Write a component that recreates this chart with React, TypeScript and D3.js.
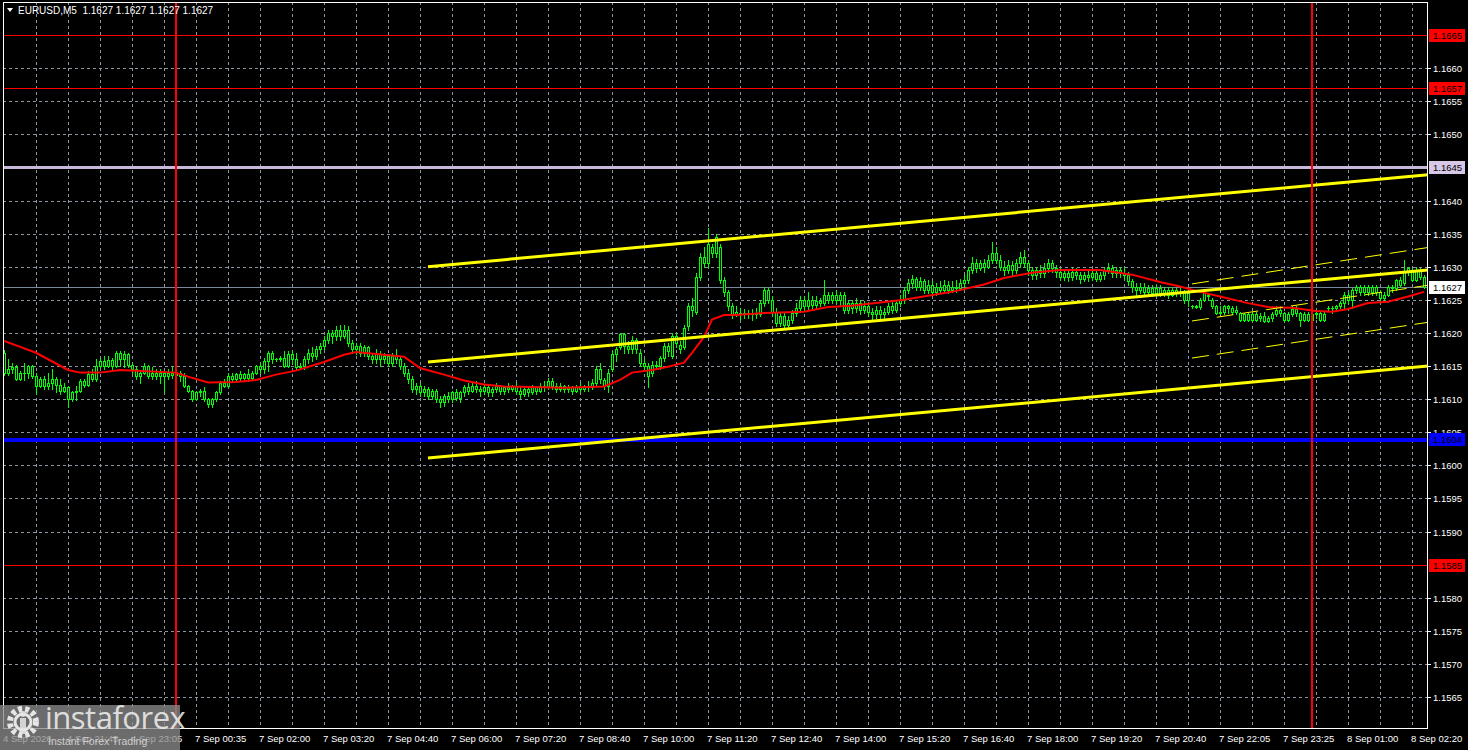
import React, { useEffect } from "react";
import * as d3 from "d3";

// ---------- DATA ----------
const symbolTitle = "EURUSD,M5  1.1627 1.1627 1.1627 1.1627";

const timeLabels = [
  "4 Sep 2026", "4 Sep 21:45", "4 Sep 23:05", "7 Sep 00:35", "7 Sep 02:00", "7 Sep 03:20",
  "7 Sep 04:40", "7 Sep 06:00", "7 Sep 07:20", "7 Sep 08:40", "7 Sep 10:00", "7 Sep 11:20",
  "7 Sep 12:40", "7 Sep 14:00", "7 Sep 15:20", "7 Sep 16:40", "7 Sep 18:00", "7 Sep 19:20",
  "7 Sep 20:40", "7 Sep 22:05", "7 Sep 23:25", "8 Sep 01:00", "8 Sep 02:20",
];

const priceTicks = [
  1.1565, 1.157, 1.1575, 1.158, 1.1585, 1.159, 1.1595, 1.16, 1.1605, 1.161, 1.1615,
  1.162, 1.1625, 1.163, 1.1635, 1.164, 1.1645, 1.165, 1.1655, 1.166, 1.1665,
];

// M5 candles: [open, high, low, close]
const ohlc: [number, number, number, number][] = [
  [1.1617, 1.16174, 1.16137, 1.1614], [1.1614, 1.1616, 1.16137, 1.16145], [1.16145, 1.16155, 1.1614, 1.16149], [1.16149, 1.16152, 1.16129, 1.16131],
  [1.16131, 1.16143, 1.16129, 1.1614], [1.1614, 1.16155, 1.16129, 1.1614], [1.1614, 1.16152, 1.16132, 1.1615], [1.1615, 1.16152, 1.16132, 1.16135],
  [1.16135, 1.1614, 1.16107, 1.1612], [1.1612, 1.16133, 1.16118, 1.1613], [1.1613, 1.16135, 1.16115, 1.1612], [1.1612, 1.1614, 1.16115, 1.16125],
  [1.16125, 1.16145, 1.16115, 1.1613], [1.1613, 1.16133, 1.1611, 1.16122], [1.16122, 1.1613, 1.16108, 1.16112], [1.16112, 1.16125, 1.1611, 1.16118],
  [1.16118, 1.1612, 1.16088, 1.161], [1.161, 1.16112, 1.16097, 1.1611], [1.1611, 1.1612, 1.16099, 1.16112], [1.16112, 1.1613, 1.1611, 1.16128],
  [1.16128, 1.1613, 1.16118, 1.16122], [1.16122, 1.16142, 1.1612, 1.16138], [1.16138, 1.16145, 1.16128, 1.1613], [1.1613, 1.1616, 1.16128, 1.1615],
  [1.1615, 1.16162, 1.16148, 1.16158], [1.16158, 1.16165, 1.16145, 1.1615], [1.1615, 1.16165, 1.16148, 1.16159], [1.16159, 1.16162, 1.16145, 1.1615],
  [1.1615, 1.16172, 1.16148, 1.1617], [1.1617, 1.16172, 1.1615, 1.1616], [1.1616, 1.16172, 1.16148, 1.16168], [1.16168, 1.1617, 1.16148, 1.16152],
  [1.16152, 1.16155, 1.1614, 1.16145], [1.16145, 1.16148, 1.1613, 1.16135], [1.16135, 1.16143, 1.16125, 1.1614], [1.1614, 1.16155, 1.16138, 1.1615],
  [1.1615, 1.16152, 1.16132, 1.16135], [1.16135, 1.16148, 1.1613, 1.1614], [1.1614, 1.16145, 1.1613, 1.16135], [1.16135, 1.16145, 1.16125, 1.1614],
  [1.1614, 1.16142, 1.1611, 1.16135], [1.16135, 1.16145, 1.1613, 1.1614], [1.1614, 1.1615, 1.16132, 1.16137], [1.16137, 1.16145, 1.1613, 1.1614],
  [1.1614, 1.16142, 1.16128, 1.16135], [1.16135, 1.1614, 1.16118, 1.1612], [1.1612, 1.16122, 1.1611, 1.16112], [1.16112, 1.16114, 1.16097, 1.161],
  [1.161, 1.16112, 1.16098, 1.1611], [1.1611, 1.16115, 1.16105, 1.16112], [1.16112, 1.16119, 1.16097, 1.161], [1.161, 1.16102, 1.16088, 1.16092],
  [1.16092, 1.16102, 1.16088, 1.161], [1.161, 1.16112, 1.16097, 1.1611], [1.1611, 1.16128, 1.16108, 1.16125], [1.16125, 1.1613, 1.16118, 1.1612],
  [1.1612, 1.1614, 1.16118, 1.16135], [1.16135, 1.1614, 1.16128, 1.1613], [1.1613, 1.1614, 1.16128, 1.16138], [1.16138, 1.16142, 1.16128, 1.16132],
  [1.16132, 1.1614, 1.1613, 1.16138], [1.16138, 1.16145, 1.16128, 1.16132], [1.16132, 1.16142, 1.1613, 1.1614], [1.1614, 1.16152, 1.16138, 1.1615],
  [1.1615, 1.16155, 1.1614, 1.16145], [1.16145, 1.16162, 1.1614, 1.16158], [1.16158, 1.16172, 1.16142, 1.1617], [1.1617, 1.16172, 1.16155, 1.1616],
  [1.1616, 1.16162, 1.16157, 1.1616], [1.1616, 1.16165, 1.16158, 1.16162], [1.16162, 1.16172, 1.16148, 1.1615], [1.1615, 1.16172, 1.16148, 1.16168],
  [1.16168, 1.16172, 1.16155, 1.1616], [1.1616, 1.1617, 1.16146, 1.16148], [1.16148, 1.16155, 1.16145, 1.1615], [1.1615, 1.16165, 1.16145, 1.1616],
  [1.1616, 1.16175, 1.16155, 1.1617], [1.1617, 1.16178, 1.16158, 1.16165], [1.16165, 1.1618, 1.1616, 1.16175], [1.16175, 1.16185, 1.1617, 1.1618],
  [1.1618, 1.16195, 1.16175, 1.1619], [1.1619, 1.16205, 1.16185, 1.162], [1.162, 1.16205, 1.16185, 1.16195], [1.16195, 1.1621, 1.1619, 1.16205],
  [1.16205, 1.16212, 1.1619, 1.16195], [1.16195, 1.16212, 1.16192, 1.16205], [1.16205, 1.1621, 1.1618, 1.16185], [1.16185, 1.1619, 1.1617, 1.16175],
  [1.16175, 1.16185, 1.16168, 1.1618], [1.1618, 1.16185, 1.16165, 1.1617], [1.1617, 1.16182, 1.16165, 1.16178], [1.16178, 1.1618, 1.1616, 1.16165],
  [1.16165, 1.1617, 1.16155, 1.1616], [1.1616, 1.16175, 1.16155, 1.16168], [1.16168, 1.16172, 1.1615, 1.1616], [1.1616, 1.1617, 1.16155, 1.16165],
  [1.16165, 1.16168, 1.1615, 1.16155], [1.16155, 1.1617, 1.1615, 1.16165], [1.16165, 1.16175, 1.16155, 1.1616], [1.1616, 1.16165, 1.16145, 1.1615],
  [1.1615, 1.16155, 1.16135, 1.1614], [1.1614, 1.16145, 1.16125, 1.1613], [1.1613, 1.16135, 1.1611, 1.16115], [1.16115, 1.16125, 1.16108, 1.1612],
  [1.1612, 1.16125, 1.16105, 1.1611], [1.1611, 1.1612, 1.16105, 1.16115], [1.16115, 1.16118, 1.161, 1.16105], [1.16105, 1.16115, 1.161, 1.16112],
  [1.16112, 1.16115, 1.16095, 1.161], [1.161, 1.16105, 1.16088, 1.16095], [1.16095, 1.16108, 1.1609, 1.16105], [1.16105, 1.1611, 1.16095, 1.161],
  [1.161, 1.16112, 1.16095, 1.1611], [1.1611, 1.16115, 1.16098, 1.16102], [1.16102, 1.16112, 1.16095, 1.1611], [1.1611, 1.16122, 1.16105, 1.16118],
  [1.16118, 1.16125, 1.16108, 1.16112], [1.16112, 1.16125, 1.1611, 1.1612], [1.1612, 1.16128, 1.1611, 1.16115], [1.16115, 1.1612, 1.16105, 1.16112],
  [1.16112, 1.16122, 1.16108, 1.16118], [1.16118, 1.1612, 1.16105, 1.1611], [1.1611, 1.16118, 1.16105, 1.16115], [1.16115, 1.16125, 1.1611, 1.1612],
  [1.1612, 1.16122, 1.16108, 1.16112], [1.16112, 1.1612, 1.16108, 1.16118], [1.16118, 1.16125, 1.1611, 1.16115], [1.16115, 1.16122, 1.16112, 1.1612],
  [1.1612, 1.16125, 1.16108, 1.16112], [1.16112, 1.16118, 1.16102, 1.16108], [1.16108, 1.16118, 1.16105, 1.16115], [1.16115, 1.1612, 1.16105, 1.1611],
  [1.1611, 1.16122, 1.16108, 1.16118], [1.16118, 1.1612, 1.16108, 1.16112], [1.16112, 1.16125, 1.1611, 1.1612], [1.1612, 1.16128, 1.16112, 1.16118],
  [1.16118, 1.16132, 1.16115, 1.16128], [1.16128, 1.16132, 1.16115, 1.1612], [1.1612, 1.16125, 1.1611, 1.16115], [1.16115, 1.16125, 1.16112, 1.1612],
  [1.1612, 1.16122, 1.1611, 1.16115], [1.16115, 1.16122, 1.1611, 1.16118], [1.16118, 1.1612, 1.16108, 1.16112], [1.16112, 1.16122, 1.1611, 1.16118],
  [1.16118, 1.16125, 1.1611, 1.16115], [1.16115, 1.16122, 1.16112, 1.1612], [1.1612, 1.16128, 1.16112, 1.16118], [1.16118, 1.1613, 1.16115, 1.16125],
  [1.16125, 1.1615, 1.16122, 1.16145], [1.16145, 1.16155, 1.16125, 1.1613], [1.16129, 1.16132, 1.16115, 1.1612], [1.1612, 1.16145, 1.1611, 1.1614],
  [1.16145, 1.16172, 1.16142, 1.16168], [1.16168, 1.16178, 1.16158, 1.16175], [1.16178, 1.162, 1.16175, 1.16198], [1.16198, 1.162, 1.1617, 1.1618],
  [1.1618, 1.16188, 1.1617, 1.16175], [1.16175, 1.16195, 1.1617, 1.1619], [1.1619, 1.16192, 1.1617, 1.16175], [1.1617, 1.16175, 1.1615, 1.16155],
  [1.16155, 1.1616, 1.16145, 1.1615], [1.1615, 1.16155, 1.16119, 1.16135], [1.1614, 1.16158, 1.16135, 1.16152], [1.16152, 1.16158, 1.16145, 1.1615],
  [1.1615, 1.16165, 1.16145, 1.16162], [1.16162, 1.16185, 1.16158, 1.1618], [1.1618, 1.16185, 1.16165, 1.16172], [1.16165, 1.162, 1.16162, 1.16195],
  [1.16195, 1.162, 1.16178, 1.16185], [1.16182, 1.16188, 1.1617, 1.16175], [1.16178, 1.16212, 1.16175, 1.16208], [1.1621, 1.16245, 1.16205, 1.1624],
  [1.1624, 1.16252, 1.16225, 1.16235], [1.16232, 1.1629, 1.16228, 1.16285], [1.16285, 1.1632, 1.1628, 1.16315], [1.16315, 1.1633, 1.163, 1.16305],
  [1.16305, 1.16359, 1.163, 1.16335], [1.1633, 1.16335, 1.16315, 1.1632], [1.1632, 1.1635, 1.16315, 1.16345], [1.1633, 1.16335, 1.16275, 1.1628],
  [1.1628, 1.16285, 1.16255, 1.16262], [1.16262, 1.16265, 1.16235, 1.1624], [1.1624, 1.16245, 1.16222, 1.16228], [1.16228, 1.1624, 1.16225, 1.16232],
  [1.1623, 1.16238, 1.1622, 1.16228], [1.16228, 1.16236, 1.16222, 1.1623], [1.1623, 1.16235, 1.16222, 1.16228], [1.16228, 1.16236, 1.1622, 1.1623],
  [1.1623, 1.16238, 1.16222, 1.16228], [1.16228, 1.1625, 1.16225, 1.16245], [1.16245, 1.1627, 1.1624, 1.16265], [1.16265, 1.16268, 1.16245, 1.1625],
  [1.1625, 1.16255, 1.16225, 1.16232], [1.16232, 1.16238, 1.1621, 1.16215], [1.16215, 1.1623, 1.1621, 1.16225], [1.16225, 1.1623, 1.16208, 1.16212],
  [1.16212, 1.16225, 1.16208, 1.1622], [1.1622, 1.16235, 1.16215, 1.1623], [1.1623, 1.16245, 1.16225, 1.16238], [1.16238, 1.16255, 1.16232, 1.1625],
  [1.1625, 1.16255, 1.16235, 1.1624], [1.1624, 1.16262, 1.16235, 1.1625], [1.1625, 1.16255, 1.16238, 1.16242], [1.16242, 1.16255, 1.16238, 1.16248],
  [1.16248, 1.16252, 1.1624, 1.16245], [1.16245, 1.1628, 1.16242, 1.16258], [1.16258, 1.16262, 1.16245, 1.1625], [1.1625, 1.16262, 1.16245, 1.16258],
  [1.16258, 1.16265, 1.16245, 1.1625], [1.1625, 1.16262, 1.1624, 1.16258], [1.16258, 1.16262, 1.1623, 1.16235], [1.16235, 1.1625, 1.1623, 1.16245],
  [1.16245, 1.1625, 1.1623, 1.16238], [1.16238, 1.16252, 1.16232, 1.16245], [1.16245, 1.1625, 1.16228, 1.16235], [1.16235, 1.16248, 1.1623, 1.1624],
  [1.1624, 1.16245, 1.16225, 1.16232], [1.16232, 1.16238, 1.1622, 1.16228], [1.16228, 1.1624, 1.16222, 1.16235], [1.16235, 1.1624, 1.16222, 1.16228],
  [1.16228, 1.16238, 1.1622, 1.16232], [1.16232, 1.16245, 1.16228, 1.1624], [1.1624, 1.16248, 1.1623, 1.16235], [1.16235, 1.1625, 1.16232, 1.16245],
  [1.16245, 1.16258, 1.1624, 1.1625], [1.1625, 1.1627, 1.16245, 1.16265], [1.16265, 1.16282, 1.1626, 1.16275], [1.16275, 1.16288, 1.16268, 1.16282],
  [1.16282, 1.16285, 1.16265, 1.1627], [1.1627, 1.16285, 1.16265, 1.16278], [1.16278, 1.16282, 1.1626, 1.16265], [1.16265, 1.1628, 1.1626, 1.16272],
  [1.16272, 1.16278, 1.16258, 1.16262], [1.16262, 1.16275, 1.16258, 1.1627], [1.1627, 1.16278, 1.1626, 1.16265], [1.16265, 1.1628, 1.16262, 1.16272],
  [1.16272, 1.16278, 1.1626, 1.16265], [1.16265, 1.16278, 1.16262, 1.1627], [1.1627, 1.1628, 1.16262, 1.16268], [1.16268, 1.16282, 1.16265, 1.16275],
  [1.16275, 1.16288, 1.1627, 1.1628], [1.1628, 1.163, 1.16275, 1.16295], [1.16295, 1.16315, 1.1629, 1.16305], [1.16305, 1.16312, 1.16292, 1.16298],
  [1.16298, 1.1631, 1.16295, 1.16305], [1.16305, 1.16312, 1.16292, 1.163], [1.163, 1.16318, 1.16298, 1.1631], [1.1631, 1.16338, 1.16305, 1.1632],
  [1.1632, 1.1633, 1.16305, 1.1631], [1.1631, 1.16318, 1.16295, 1.163], [1.163, 1.16308, 1.16288, 1.16295], [1.16295, 1.1631, 1.1629, 1.16302],
  [1.16302, 1.16308, 1.16288, 1.16295], [1.16295, 1.16312, 1.1629, 1.16305], [1.16305, 1.16322, 1.163, 1.16315], [1.16315, 1.16325, 1.163, 1.16305],
  [1.16305, 1.1631, 1.16288, 1.16295], [1.16295, 1.163, 1.16282, 1.16288], [1.16288, 1.163, 1.16282, 1.16295], [1.16295, 1.16302, 1.16285, 1.1629],
  [1.1629, 1.16305, 1.16285, 1.16298], [1.16298, 1.16312, 1.16292, 1.16305], [1.16305, 1.1631, 1.16292, 1.16298], [1.16298, 1.16302, 1.16285, 1.16292],
  [1.16292, 1.16298, 1.1628, 1.16285], [1.16285, 1.16295, 1.1628, 1.1629], [1.1629, 1.16295, 1.16278, 1.16285], [1.16285, 1.16298, 1.1628, 1.16292],
  [1.16292, 1.16298, 1.16282, 1.16288], [1.16288, 1.16292, 1.16275, 1.16282], [1.16282, 1.16292, 1.16278, 1.16288], [1.16288, 1.16295, 1.16278, 1.16285],
  [1.16285, 1.16295, 1.1628, 1.1629], [1.1629, 1.16295, 1.16278, 1.16282], [1.16282, 1.16292, 1.16278, 1.16288], [1.16288, 1.163, 1.16282, 1.16295],
  [1.16295, 1.16305, 1.1629, 1.16298], [1.16298, 1.16302, 1.16285, 1.1629], [1.1629, 1.163, 1.16285, 1.16295], [1.16295, 1.163, 1.16285, 1.1629],
  [1.1629, 1.16298, 1.16282, 1.16288], [1.16288, 1.16292, 1.16272, 1.16278], [1.16278, 1.16282, 1.16262, 1.1627], [1.1627, 1.16275, 1.16258, 1.16265],
  [1.16265, 1.16275, 1.1626, 1.1627], [1.1627, 1.16275, 1.16258, 1.16262], [1.16262, 1.16272, 1.16255, 1.16268], [1.16268, 1.16272, 1.16255, 1.1626],
  [1.1626, 1.16272, 1.16255, 1.16268], [1.16268, 1.16272, 1.16255, 1.1626], [1.1626, 1.1627, 1.16255, 1.16265], [1.16265, 1.1627, 1.16252, 1.16258],
  [1.16258, 1.1627, 1.16255, 1.16265], [1.16265, 1.16268, 1.16255, 1.1626], [1.1626, 1.16268, 1.16255, 1.16262], [1.16262, 1.16265, 1.16245, 1.1625],
  [1.1625, 1.16263, 1.1624, 1.1626], [1.1624, 1.16242, 1.16238, 1.1624], [1.1624, 1.16242, 1.16237, 1.16239], [1.16239, 1.16252, 1.16236, 1.1625],
  [1.1625, 1.16263, 1.16248, 1.16261], [1.16258, 1.1626, 1.1625, 1.16255], [1.1625, 1.16252, 1.16238, 1.1624], [1.1624, 1.16242, 1.16228, 1.1623],
  [1.1623, 1.1624, 1.16228, 1.16232], [1.16232, 1.16242, 1.16228, 1.1624], [1.1624, 1.16242, 1.1623, 1.16238], [1.16238, 1.1624, 1.16228, 1.16232],
  [1.16232, 1.1624, 1.16228, 1.16235], [1.1623, 1.16232, 1.16218, 1.1622], [1.1622, 1.1623, 1.16218, 1.16228], [1.16228, 1.1623, 1.16218, 1.1622],
  [1.1622, 1.16232, 1.16218, 1.16228], [1.16228, 1.16232, 1.16218, 1.1622], [1.16222, 1.1623, 1.16218, 1.16225], [1.16225, 1.16232, 1.16216, 1.16218],
  [1.16218, 1.16226, 1.16216, 1.16222], [1.16222, 1.16232, 1.16218, 1.16228], [1.16228, 1.1624, 1.16226, 1.16235], [1.16235, 1.1624, 1.16226, 1.1623],
  [1.1623, 1.16232, 1.16218, 1.1622], [1.1622, 1.16232, 1.16218, 1.16228], [1.16228, 1.1624, 1.16225, 1.16236], [1.16236, 1.1624, 1.16226, 1.1623],
  [1.1623, 1.16232, 1.1621, 1.1622], [1.1622, 1.16232, 1.16218, 1.16228], [1.16228, 1.16232, 1.16218, 1.1622], [1.1622, 1.16232, 1.16218, 1.16228],
  [1.16228, 1.16235, 1.16222, 1.1623], [1.1623, 1.16232, 1.16218, 1.1622], [1.1622, 1.16232, 1.16218, 1.16228], [1.16238, 1.1624, 1.16235, 1.16237],
  [1.16237, 1.1624, 1.1623, 1.16238], [1.16238, 1.16242, 1.16235, 1.1624], [1.1624, 1.16248, 1.16238, 1.16245], [1.16245, 1.16262, 1.16238, 1.16258],
  [1.16258, 1.16262, 1.16245, 1.1625], [1.1625, 1.16268, 1.16238, 1.16265], [1.16265, 1.16272, 1.1626, 1.1627], [1.1627, 1.16272, 1.16258, 1.16262],
  [1.16262, 1.16272, 1.16258, 1.1627], [1.1627, 1.16272, 1.16258, 1.16262], [1.16262, 1.16272, 1.16258, 1.1627], [1.1627, 1.16272, 1.16258, 1.16262],
  [1.16262, 1.16265, 1.16248, 1.16252], [1.16252, 1.16262, 1.1625, 1.16258], [1.16258, 1.16272, 1.16255, 1.1627], [1.1627, 1.16273, 1.16262, 1.16268],
  [1.16268, 1.16282, 1.16265, 1.1628], [1.1628, 1.16285, 1.1627, 1.16272], [1.16275, 1.1631, 1.16272, 1.16292], [1.16292, 1.163, 1.16288, 1.16298],
  [1.16295, 1.16298, 1.16278, 1.1628], [1.1628, 1.163, 1.16278, 1.16295], [1.16295, 1.16298, 1.16282, 1.16285], [1.16285, 1.16288, 1.16268, 1.1627],
];

// Moving average: [bar index, price]
const maPoints: [number, number][] = [
  [0, 1.16188], [8, 1.1617], [16, 1.16144], [19, 1.1614], [24, 1.1614], [29, 1.16144], [33, 1.16143],
  [43, 1.1614], [46, 1.16134], [51, 1.16125], [58, 1.16126], [63, 1.16129], [68, 1.16137], [73, 1.16143],
  [80, 1.16156], [85, 1.16167], [88, 1.16171], [95, 1.16167], [100, 1.16164], [104, 1.16147], [110, 1.16137],
  [115, 1.16128], [120, 1.16122], [125, 1.16119], [140, 1.16117], [150, 1.16119], [154, 1.16129], [157, 1.1614],
  [162, 1.16144], [166, 1.16149], [170, 1.16155], [172, 1.1617], [175, 1.16194], [177, 1.1622], [180, 1.16227],
  [183, 1.16227], [190, 1.1623], [200, 1.16232], [206, 1.16239], [212, 1.16241], [225, 1.1625], [237, 1.16262],
  [245, 1.16273], [250, 1.16283], [257, 1.16291], [264, 1.16295], [274, 1.16295], [282, 1.16288], [289, 1.16277],
  [294, 1.1627], [299, 1.16262], [304, 1.16255], [311, 1.16245], [316, 1.16239], [322, 1.16238], [328, 1.16233],
  [332, 1.16232], [336, 1.16236], [341, 1.16245], [346, 1.16247], [351, 1.16255], [355, 1.16262],
];

// Linear regression channel (bar index, price) — solid yellow
const channelStart = 106;
const channelEnd = 356;
const channelUpper = [1.163, 1.16439];
const channelMiddle = [1.16156, 1.16295];
const channelLower = [1.16011, 1.1615];

// Second channel — thin dashed yellow
const dashStart = 297;
const dashEnd = 356;
const dashUpper = [1.16274, 1.16329];
const dashMiddle = [1.16218, 1.16272];
const dashLower = [1.16162, 1.16216];

// Horizontal levels
const levelPrices = [1.1665, 1.1657, 1.1645, 1.1627, 1.1604, 1.1585];
const levelColors = ["#ff0000", "#ff0000", "#c8b8dc", "#778899", "#0000ff", "#ff0000"];
const levelWidths = [1, 1, 3, 1, 4, 1];
const levelBoxColors = ["#ff0000", "#ff0000", "#d8c8e8", "#ffffff", "#0000ff", "#ff0000"];

// Day separators (bar index)
const separatorBars = [43, 327];

// ---------- CHART ----------
const W = 1468;
const H = 750;
const L = 3;
const R = 1427;
const T = 2;
const B = 728;

export default function App() {
  useEffect(() => {
    document.body.style.margin = "0";
    document.body.style.background = "#000";
  }, []);

  const x = d3.scaleLinear().domain([0, 355]).range([4, 1424]);
  const y = d3.scaleLinear().domain([1.1565, 1.1665]).range([697, 35]);
  const ry = (p: number) => Math.round(y(p));
  const py = (p: number) => ry(p) + 0.5;

  const gridXs = d3.range(1, 45).map((k) => x(k * 8));
  const fontFamily = "'Liberation Sans', Arial, sans-serif";

  const line = d3
    .line<[number, number]>()
    .x((d) => x(d[0]))
    .y((d) => y(d[1]));

  const hiddenTicks = new Set(["1.1665", "1.1645", "1.1585"]);

  const ch = (vals: number[], s: number, e: number): [number, number][] => [
    [s, vals[0]],
    [e, vals[1]],
  ];

  return (
    <svg
      width={W}
      height={H}
      style={{ position: "absolute", left: 0, top: 0, display: "block", background: "#000" }}
    >
      <rect x={0} y={0} width={W} height={H} fill="#000" />
      {/* grid */}
      <g stroke="#8c96a0" strokeWidth={1} strokeDasharray="3,3">
        {priceTicks.map((p) => (
          <line key={"h" + p} x1={L} x2={R} y1={py(p)} y2={py(p)} />
        ))}
        {gridXs.map((gx, k) => (
          <line key={"v" + k} x1={Math.round(gx) + 0.5} x2={Math.round(gx) + 0.5} y1={T} y2={B} />
        ))}
      </g>

      {/* horizontal levels (solid pixel rows) */}
      {levelPrices.map((p, k) => {
        const w = levelWidths[k];
        const top = ry(p) - Math.floor((w - 1) / 2);
        return (
          <rect
            key={"lv" + k}
            x={L}
            y={top}
            width={R - L}
            height={w}
            fill={levelColors[k]}
            shapeRendering="crispEdges"
          />
        );
      })}

      {/* candles */}
      <g>
        {ohlc.map(([o, h, l, c], i) => {
          const cx = Math.round(x(i));
          const yo = ry(o);
          const yc = ry(c);
          const yh = ry(h);
          const yl = ry(l);
          const top = Math.min(yo, yc);
          const bot = Math.max(yo, yc);
          return (
            <g key={"c" + i}>
              <line x1={cx + 0.5} x2={cx + 0.5} y1={yh} y2={yl + 1} stroke="#00ff00" strokeWidth={1} />
              {bot - top < 1 ? (
                <line x1={cx - 1} x2={cx + 2} y1={top + 0.5} y2={top + 0.5} stroke="#00ff00" strokeWidth={1} />
              ) : (
                <rect x={cx - 0.5} y={top + 0.5} width={2} height={bot - top} fill="#000" stroke="#00ff00" strokeWidth={1} />
              )}
            </g>
          );
        })}
      </g>

      {/* moving average */}
      <path d={line(maPoints) || ""} fill="none" stroke="#ff0000" strokeWidth={2} />

      {/* regression channel */}
      <g fill="none" stroke="#ffff00" strokeWidth={3}>
        <path d={line(ch(channelUpper, channelStart, channelEnd)) || ""} />
        <path d={line(ch(channelMiddle, channelStart, channelEnd)) || ""} />
        <path d={line(ch(channelLower, channelStart, channelEnd)) || ""} />
      </g>
      <g fill="none" stroke="#ffff00" strokeWidth={1} strokeDasharray="17,8">
        <path d={line(ch(dashUpper, dashStart, dashEnd)) || ""} />
        <path d={line(ch(dashMiddle, dashStart, dashEnd)) || ""} />
        <path d={line(ch(dashLower, dashStart, dashEnd)) || ""} />
      </g>

      {/* day separators */}
      {separatorBars.map((b) => (
        <rect key={"s" + b} x={Math.round(x(b)) - 1} y={T} width={2} height={B - T} fill="#ff0000" shapeRendering="crispEdges" />
      ))}

      {/* clip area to the right of the plot */}
      <rect x={R + 0.5} y={0} width={W - R} height={H} fill="#000" />

      {/* frame */}
      <rect x={L + 0.5} y={T + 0.5} width={R - L} height={B - T} fill="none" stroke="#ffffff" strokeWidth={1} />

      {/* price axis */}
      <g fontFamily={fontFamily} fontSize={9.5} fill="#ffffff">
        {priceTicks.map((p) => {
          const label = p.toFixed(4);
          if (hiddenTicks.has(label)) return null;
          return (
            <g key={"pt" + p}>
              <line x1={R + 1} x2={R + 4} y1={py(p)} y2={py(p)} stroke="#ffffff" />
              <text x={1433} y={ry(p) + 4}>
                {label}
              </text>
            </g>
          );
        })}
      </g>
      <g fontFamily={fontFamily} fontSize={9.5}>
        {levelPrices.map((p, k) => {
          const cy = ry(p);
          return (
            <g key={"lb" + k}>
              <rect x={1429} y={cy - 6} width={36} height={13} fill={levelBoxColors[k]} />
              <text x={1433} y={cy + 4} fill="#000">
                {p.toFixed(4)}
              </text>
            </g>
          );
        })}
      </g>

      {/* time axis */}
      <g fontFamily={fontFamily} fontSize={9.5} fill="#ffffff">
        {timeLabels.map((t, k) => (
          <text key={"t" + k} x={Math.round(x(k * 16)) - 1} y={742}>
            {t}
          </text>
        ))}
      </g>

      {/* title */}
      <g fontFamily={fontFamily} fontSize={10} fill="#ffffff">
        <path d="M7,8 L13,8 L10,12 Z" fill="#ffffff" />
        <text x={18} y={14} xmlSpace="preserve">
          {symbolTitle}
        </text>
      </g>

      {/* watermark */}
      <g>
        <rect x={0} y={705} width={180} height={45} fill="#8a8a8a" fillOpacity={0.78} />
        <g fill="#e6e6e6" fillOpacity={0.85}>
          <circle cx={23} cy={722} r={13} fill="none" stroke="#e6e6e6" strokeWidth={6} strokeDasharray="4,3" />
          <circle cx={23} cy={722} r={8} fill="none" stroke="#e6e6e6" strokeWidth={3} />
          <rect x={20} y={718} width={6} height={16} />
          <circle cx={23} cy={714} r={3} />
        </g>
        <text x={45} y={729} fontFamily="'Open Sans', 'DejaVu Sans', sans-serif" fontSize={31} fill="#ececec" fillOpacity={0.9} letterSpacing={-0.5}>
          instaforex
        </text>
        <text x={48} y={745} fontFamily={fontFamily} fontSize={10.5} fill="#e0e0e0" fillOpacity={0.85}>
          Instant Forex Trading
        </text>
      </g>
    </svg>
  );
}
